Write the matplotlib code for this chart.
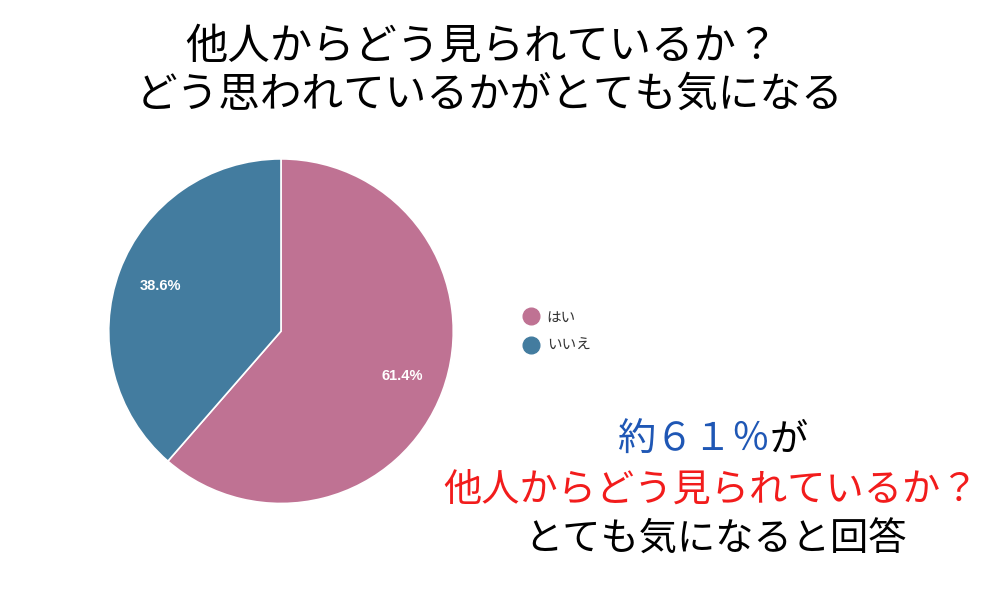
import matplotlib
matplotlib.use("Agg")
import matplotlib.pyplot as plt
from matplotlib.lines import Line2D

plt.rcParams['font.family'] = ['Noto Sans CJK JP', 'DejaVu Sans']

# data
labels = ['はい', 'いいえ']
values = [61.4, 38.6]
colors = ['#bf7293', '#437c9f']

title_lines = ['他人からどう見られているか？', 'どう思われているかがとても気になる']
note_blue = '約６１％'
note_tail = 'が'
note_red = '他人からどう見られているか？'
note_black = 'とても気になると回答'

fig = plt.figure(figsize=(10, 6), dpi=100)
fig.patch.set_facecolor('white')

ax = fig.add_axes([0.107, 0.158, 0.348, 0.58])
wedges, texts, autotexts = ax.pie(
    values, colors=colors, startangle=90, counterclock=False,
    autopct='%.1f%%', pctdistance=0.75,
    wedgeprops=dict(edgecolor='white', linewidth=1.2),
    textprops=dict(color='white', fontsize=10.5, fontweight='bold',
                   family=['Liberation Sans', 'DejaVu Sans']))
ax.set_xlim(-1.01, 1.01)
ax.set_ylim(-1.01, 1.01)
ax.set_aspect('equal')

# legend with round markers
handles = [Line2D([], [], marker='o', linestyle='', markersize=12,
                  markerfacecolor=c, markeredgecolor=c) for c in colors]
fig.legend(handles, labels, loc='center left', bbox_to_anchor=(0.503, 0.447),
           frameon=False, fontsize=10.5, labelcolor='#333333',
           handletextpad=0.1, labelspacing=1.0)

# title
fig.text(0.482, 1 - 47 / 600, title_lines[0], ha='center', va='center',
         fontsize=30.5, color='black')
fig.text(0.49, 1 - 95 / 600, title_lines[1], ha='center', va='center',
         fontsize=30, color='black')

# annotation
t1 = fig.text(0.617, 1 - 440 / 600, note_blue, ha='left', va='center',
              fontsize=27.5, color='#1f57b5')
ax.annotate(note_tail, xy=(1, 0.5), xycoords=t1, ha='left', va='center',
            fontsize=27.5, color='black', annotation_clip=False)
fig.text(0.711, 1 - 490 / 600, note_red, ha='center', va='center',
         fontsize=27.5, color='#f21c1c')
fig.text(0.716, 1 - 540 / 600, note_black, ha='center', va='center',
         fontsize=27.5, color='black')

fig.savefig('out.png', dpi=100, facecolor='white')
